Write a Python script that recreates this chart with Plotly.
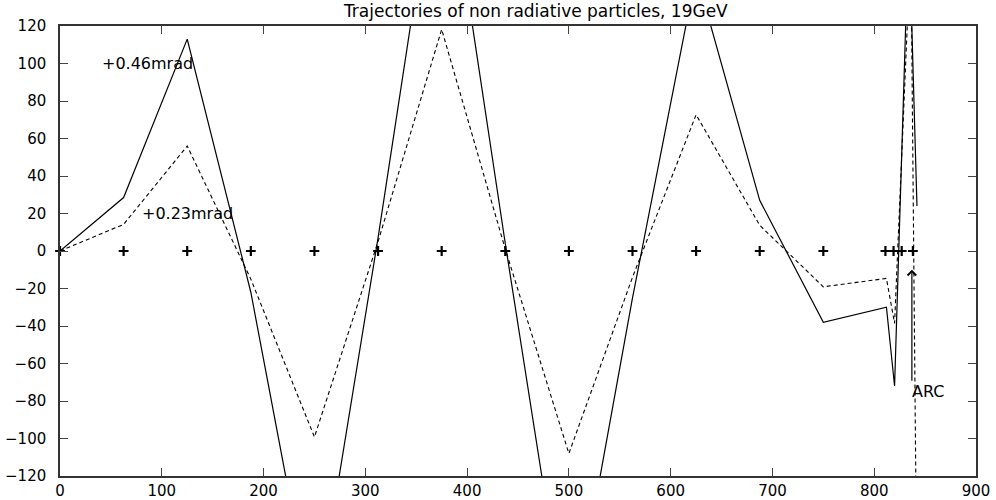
import plotly.graph_objects as go

# Quadrupole positions (markers on y=0)
quad_x = [0, 62.5, 125, 187.5, 250, 312.5, 375, 437.5, 500, 562.5, 625, 687.5, 750, 811, 819, 827, 838]

# +0.46 mrad trajectory (solid)
solid_x = [0, 62.5, 125, 187.5, 250, 312.5, 375, 437.5, 500, 562.5, 625, 687.5, 750, 812, 820, 834, 842]
solid_y = [0, 28.5, 113, -22, -201, 7, 229, 4, -212, -25, 148, 27, -38, -30, -72, 175, 24]

# +0.23 mrad trajectory (dashed)
dash_x = [0, 62.5, 125, 187.5, 250, 312.5, 375, 437.5, 500, 562.5, 625, 687.5, 750, 812, 820, 836, 841]
dash_y = [0, 14.2, 56, -15, -99.2, 5, 118.2, 1, -108, -14, 72.7, 13.7, -19.1, -14.6, -38.6, 165, -130]

x_ticks = [0, 100, 200, 300, 400, 500, 600, 700, 800, 900]
y_ticks = [-120, -100, -80, -60, -40, -20, 0, 20, 40, 60, 80, 100, 120]

FONT = "DejaVu Sans"

fig = go.Figure()
fig.add_trace(go.Scatter(x=solid_x, y=solid_y, mode="lines",
                         line=dict(color="black", width=1.2), showlegend=False))
fig.add_trace(go.Scatter(x=dash_x, y=dash_y, mode="lines",
                         line=dict(color="black", width=1.1, dash="4px,3px"), showlegend=False))
fig.add_trace(go.Scatter(x=quad_x, y=[0] * len(quad_x), mode="markers",
                         marker=dict(symbol="cross-thin", size=7, line=dict(color="black", width=2.2)),
                         showlegend=False, cliponaxis=False))

fig.add_annotation(x=39, y=100, xref="x", yref="y", text="+0.46mrad", showarrow=False,
                   xanchor="left", yanchor="middle", font=dict(family=FONT, size=16, color="black"))
fig.add_annotation(x=79, y=20, xref="x", yref="y", text="+0.23mrad", showarrow=False,
                   xanchor="left", yanchor="middle", font=dict(family=FONT, size=16, color="black"))
fig.add_annotation(x=837, y=-10, ax=837, ay=-70, xref="x", yref="y", axref="x", ayref="y",
                   text="", showarrow=True, arrowhead=4, arrowsize=1.4, arrowwidth=1.2, arrowcolor="black")
fig.add_annotation(x=835.5, y=-75, xref="x", yref="y", text="ARC", showarrow=False,
                   xanchor="left", yanchor="middle", font=dict(family=FONT, size=16, color="black"))

axis_common = dict(showgrid=False, zeroline=False, showline=True, linecolor="#333", linewidth=1.5,
                   mirror="allticks", ticks="inside", ticklen=8, tickcolor="#444", tickwidth=1.2,
                   automargin=False, tickfont=dict(family=FONT, size=15, color="black"))
fig.update_xaxes(range=[0, 900], tickvals=x_ticks, **axis_common)
fig.update_yaxes(range=[-120, 120], tickvals=y_ticks, ticklabelstandoff=9, **axis_common)

fig.update_layout(
    width=996, height=500,
    margin=dict(l=60, r=20, t=26, b=24),
    paper_bgcolor="white", plot_bgcolor="white",
    title=dict(text="Trajectories of non radiative particles, 19GeV", x=0.538, xref="container",
               xanchor="center", y=0.978, yanchor="middle", yref="container",
               font=dict(family=FONT, size=17, color="black")),
)

fig.write_html("out.html")
